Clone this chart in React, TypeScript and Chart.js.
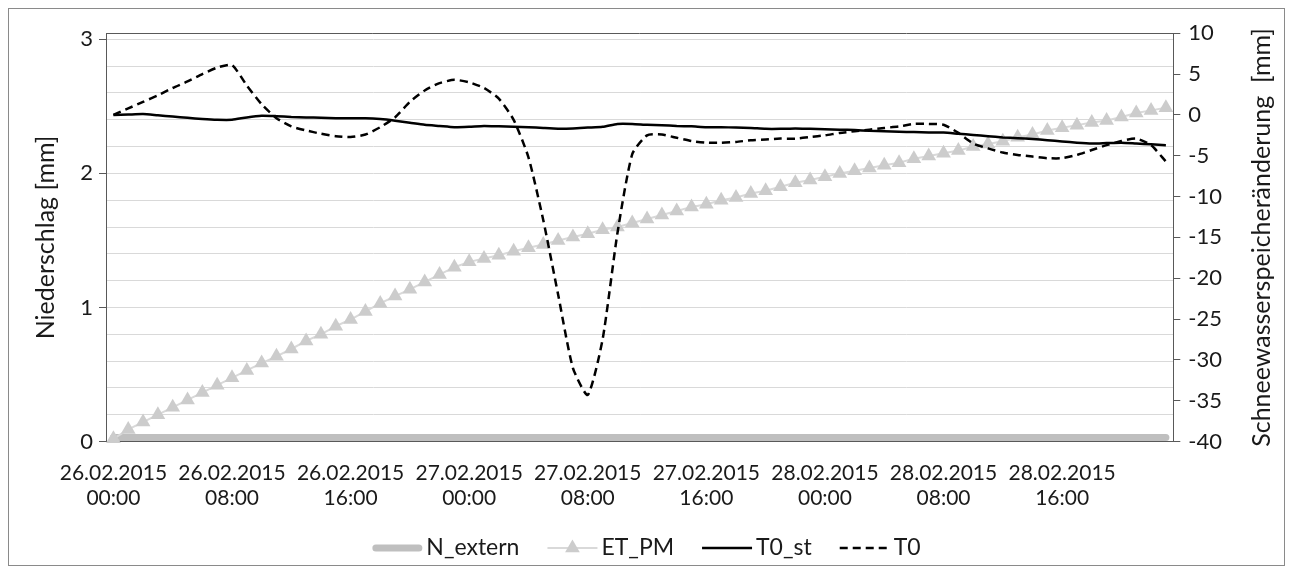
import React, { useEffect, useRef } from "react";
import { Chart, registerables } from "chart.js";

Chart.register(...registerables);

// ---------- data ----------
const days = ["26.02.2015", "27.02.2015", "28.02.2015"];
const hours = [
  "00:00", "01:00", "02:00", "03:00", "04:00", "05:00", "06:00", "07:00",
  "08:00", "09:00", "10:00", "11:00", "12:00", "13:00", "14:00", "15:00",
  "16:00", "17:00", "18:00", "19:00", "20:00", "21:00", "22:00", "23:00",
];
const categories: string[] = [];
days.forEach((d) => hours.forEach((h) => categories.push(d + " " + h)));
const labelEvery = 8;

// Niederschlag (left axis)
const nExtern = [
  0.03, 0.03, 0.03, 0.03, 0.03, 0.03, 0.03, 0.03, 0.03, 0.03, 0.03, 0.03,
  0.03, 0.03, 0.03, 0.03, 0.03, 0.03, 0.03, 0.03, 0.03, 0.03, 0.03, 0.03,
  0.03, 0.03, 0.03, 0.03, 0.03, 0.03, 0.03, 0.03, 0.03, 0.03, 0.03, 0.03,
  0.03, 0.03, 0.03, 0.03, 0.03, 0.03, 0.03, 0.03, 0.03, 0.03, 0.03, 0.03,
  0.03, 0.03, 0.03, 0.03, 0.03, 0.03, 0.03, 0.03, 0.03, 0.03, 0.03, 0.03,
  0.03, 0.03, 0.03, 0.03, 0.03, 0.03, 0.03, 0.03, 0.03, 0.03, 0.03, 0.03,
];

// ET_PM (left axis)
const etPM = [
  0.02, 0.09, 0.145, 0.2, 0.255, 0.31, 0.365, 0.42, 0.475, 0.53, 0.585, 0.635,
  0.69, 0.75, 0.8, 0.86, 0.91, 0.97, 1.03, 1.085, 1.135, 1.19, 1.245, 1.3,
  1.34, 1.365, 1.39, 1.42, 1.445, 1.47, 1.5, 1.525, 1.55, 1.58, 1.6, 1.63,
  1.66, 1.69, 1.72, 1.75, 1.77, 1.8, 1.82, 1.85, 1.87, 1.9, 1.93, 1.95,
  1.975, 2.0, 2.02, 2.04, 2.06, 2.08, 2.11, 2.13, 2.15, 2.17, 2.2, 2.22,
  2.24, 2.27, 2.29, 2.32, 2.34, 2.36, 2.38, 2.395, 2.42, 2.45, 2.47, 2.49,
];

// T0_st (right axis)
const t0st = [
  0.0, 0.05, 0.1, -0.05, -0.2, -0.35, -0.5, -0.6, -0.6, -0.3, -0.1, -0.15,
  -0.25, -0.3, -0.35, -0.4, -0.4, -0.4, -0.5, -0.7, -0.95, -1.2, -1.35, -1.5,
  -1.45, -1.35, -1.4, -1.45, -1.5, -1.6, -1.68, -1.65, -1.55, -1.45, -1.1, -1.1,
  -1.2, -1.25, -1.35, -1.4, -1.5, -1.5, -1.55, -1.6, -1.7, -1.7, -1.65, -1.7,
  -1.75, -1.8, -1.85, -1.95, -2.0, -2.05, -2.1, -2.15, -2.15, -2.3, -2.45, -2.6,
  -2.75, -2.85, -2.95, -3.1, -3.25, -3.4, -3.5, -3.45, -3.4, -3.5, -3.6, -3.7,
];

// T0 (right axis)
const t0 = [
  0.0, 0.8, 1.6, 2.4, 3.3, 4.1, 5.0, 5.8, 6.1, 3.6, 1.3, -0.4,
  -1.4, -1.9, -2.3, -2.6, -2.7, -2.4, -1.5, -0.3, 1.6, 3.0, 3.9, 4.3,
  4.0, 3.3, 2.0, -0.6, -5.2, -12.9, -22.0, -31.0, -34.3, -27.5, -14.5, -4.8,
  -2.5, -2.4, -2.8, -3.2, -3.4, -3.4, -3.3, -3.1, -3.0, -2.9, -2.9, -2.7,
  -2.5, -2.2, -2.0, -1.8, -1.6, -1.4, -1.1, -1.1, -1.2, -2.2, -3.5, -4.1,
  -4.6, -4.9, -5.1, -5.3, -5.3, -4.9, -4.3, -3.7, -3.2, -2.9, -3.7, -5.7,
];

const leftTickValues = [0, 1, 2, 3];
const leftGridStep = 0.2;
const rightMin = -40;
const rightMax = 10;
const rightStep = 5;
const leftTitle = "Niederschlag [mm]";
const rightTitle = "Schneewasserspeicheränderung  [mm]";

// ---------- style ----------
const FONT = 'Lato, "Open Sans", sans-serif';
const TEXT = "#1a1a1a";
const AXIS = "#595959";
const GRID = "#d9d9d9";
const FS_X = 21;
const FS_Y = 22;
const FS_TITLE = 25;
const FS_LEGEND = 23;

const W = 1275;
const H = 556;
const PLOT_LEFT = 97;
const PLOT_RIGHT = 1164.3;
const PLOT_TOP = 24.3;
const PLOT_BOTTOM = 432.5;
const X_AXIS_H = 70;
const LEGEND_Y = 539;
const RIGHT_TITLE_X = 1253;

const isInt = (v: number) => Math.abs(v - Math.round(v)) < 1e-6;

const frameTopPlugin = {
  id: "frameTop",
  beforeDatasetsDraw(chart: any) {
    const { ctx, chartArea } = chart;
    ctx.save();
    ctx.strokeStyle = AXIS;
    ctx.lineWidth = 1;
    ctx.beginPath();
    ctx.moveTo(chartArea.left, Math.round(chartArea.top) + 0.5);
    ctx.lineTo(chartArea.right, Math.round(chartArea.top) + 0.5);
    ctx.stroke();
    ctx.restore();
  },
};

const rightTitlePlugin = {
  id: "rightTitle",
  afterDraw(chart: any) {
    const { ctx, chartArea } = chart;
    ctx.save();
    ctx.translate(RIGHT_TITLE_X, (chartArea.top + chartArea.bottom) / 2);
    ctx.rotate(-Math.PI / 2);
    ctx.font = `${FS_TITLE}px ${FONT}`;
    ctx.fillStyle = TEXT;
    ctx.textAlign = "center";
    ctx.textBaseline = "middle";
    ctx.fillText(rightTitle, 0, 0);
    ctx.restore();
  },
};

const legendPlugin = {
  id: "customLegend",
  afterDraw(chart: any) {
    const ctx = chart.ctx;
    ctx.save();
    ctx.font = `${FS_LEGEND}px ${FONT}`;
    const sample = 50;
    const gapS = 4;
    const gapI = 28;
    const ds = chart.data.datasets;
    const widths = ds.map((d: any) => ctx.measureText(d.label).width);
    const total =
      widths.reduce((a: number, b: number) => a + b + sample + gapS, 0) +
      gapI * (ds.length - 1);
    let x = (chart.width - total) / 2;
    const y = LEGEND_Y;
    ds.forEach((d: any, i: number) => {
      ctx.save();
      ctx.strokeStyle = d.borderColor;
      ctx.lineWidth = d.borderWidth;
      const round = d.borderCapStyle === "round";
      ctx.lineCap = round ? "round" : "butt";
      ctx.setLineDash(d.borderDash || []);
      ctx.beginPath();
      ctx.moveTo(x + (round ? d.borderWidth / 2 : 0), y);
      ctx.lineTo(x + sample - (round ? d.borderWidth / 2 : 0), y);
      ctx.stroke();
      if (d.pointStyle === "triangle") {
        const r = d.pointRadius;
        const cx = x + sample / 2;
        ctx.setLineDash([]);
        ctx.fillStyle = d.pointBackgroundColor;
        ctx.beginPath();
        for (let k = 0; k < 3; k++) {
          const a = (k * 2 * Math.PI) / 3;
          const px = cx + Math.sin(a) * r;
          const py = y - Math.cos(a) * r;
          if (k === 0) ctx.moveTo(px, py);
          else ctx.lineTo(px, py);
        }
        ctx.closePath();
        ctx.fill();
      }
      ctx.restore();
      ctx.fillStyle = TEXT;
      ctx.textBaseline = "middle";
      ctx.textAlign = "left";
      ctx.fillText(d.label, x + sample + gapS, y);
      x += sample + gapS + widths[i] + gapI;
    });
    ctx.restore();
  },
};

export default function App() {
  const ref = useRef<HTMLCanvasElement | null>(null);

  useEffect(() => {
    if (!ref.current) return;
    const leftGrid: number[] = [];
    const leftTop = leftTickValues[leftTickValues.length - 1];
    for (let k = 0; k * leftGridStep <= leftTop + 1e-9; k++) {
      leftGrid.push(Math.round(k * leftGridStep * 1000) / 1000);
    }
    const chart = new Chart(ref.current, {
      type: "line",
      data: {
        labels: categories,
        datasets: [
          {
            label: "N_extern",
            data: nExtern,
            yAxisID: "y",
            borderColor: "#bfbfbf",
            backgroundColor: "#bfbfbf",
            borderWidth: 7,
            borderCapStyle: "round",
            pointRadius: 0,
            order: 4,
          },
          {
            label: "ET_PM",
            data: etPM,
            yAxisID: "y",
            borderColor: "#d9d9d9",
            backgroundColor: "#cccccc",
            borderWidth: 2,
            pointStyle: "triangle",
            pointRadius: 8.5,
            pointBackgroundColor: "#cccccc",
            pointBorderColor: "#cccccc",
            pointBorderWidth: 0,
            clip: 10,
            order: 3,
          },
          {
            label: "T0_st",
            data: t0st,
            yAxisID: "y1",
            borderColor: "#000000",
            backgroundColor: "#000000",
            borderWidth: 2.5,
            pointRadius: 0,
            tension: 0.2,
            order: 2,
          },
          {
            label: "T0",
            data: t0,
            yAxisID: "y1",
            borderColor: "#000000",
            backgroundColor: "#000000",
            borderWidth: 2.5,
            borderDash: [8, 5],
            pointRadius: 0,
            tension: 0.2,
            order: 1,
          },
        ] as any,
      },
      options: {
        animation: false,
        responsive: true,
        maintainAspectRatio: false,
        layout: {
          padding: { left: 0, right: 0, top: PLOT_TOP, bottom: H - PLOT_BOTTOM - X_AXIS_H },
        },
        plugins: {
          legend: { display: false },
          tooltip: { enabled: false },
        },
        scales: {
          x: {
            type: "category",
            offset: true,
            grid: { display: false, offset: true },
            border: { display: true, color: AXIS, width: 1 },
            ticks: {
              autoSkip: false,
              maxRotation: 0,
              minRotation: 0,
              padding: 11,
              color: TEXT,
              font: { family: FONT, size: FS_X },
              callback: (_v: any, i: number) => {
                if (i % labelEvery !== 0) return "";
                const parts = categories[i].split(" ");
                return [parts[0], parts[1]];
              },
            },
            afterFit: (s: any) => {
              s.height = X_AXIS_H;
            },
          },
          y: {
            type: "linear",
            position: "left",
            min: 0,
            max: 3.045,
            afterBuildTicks: (s: any) => {
              s.ticks = leftGrid.map((v) => ({ value: v }));
            },
            grid: {
              color: GRID,
              lineWidth: 1,
              tickLength: 7,
              tickColor: (c: any) => (c.tick && isInt(c.tick.value) ? AXIS : "rgba(0,0,0,0)"),
            },
            border: { display: true, color: AXIS, width: 1 },
            ticks: {
              autoSkip: false,
              padding: 6,
              color: TEXT,
              font: { family: FONT, size: FS_Y },
              callback: (v: any) => (isInt(Number(v)) ? String(Math.round(Number(v))) : ""),
            },
            title: {
              display: true,
              text: leftTitle,
              color: TEXT,
              font: { family: FONT, size: FS_TITLE },
              padding: { top: 22, bottom: 0 },
            },
            afterFit: (s: any) => {
              s.width = PLOT_LEFT;
            },
          },
          y1: {
            type: "linear",
            position: "right",
            min: rightMin,
            max: rightMax,
            grid: {
              drawOnChartArea: false,
              tickLength: 7,
              tickColor: AXIS,
            },
            border: { display: true, color: AXIS, width: 1 },
            ticks: {
              autoSkip: false,
              stepSize: rightStep,
              padding: 8,
              color: TEXT,
              font: { family: FONT, size: FS_Y },
            },
            title: { display: false },
            afterFit: (s: any) => {
              s.width = W - PLOT_RIGHT;
            },
          },
        },
      } as any,
      plugins: [frameTopPlugin, rightTitlePlugin, legendPlugin],
    });
    return () => chart.destroy();
  }, []);

  return (
    <div
      style={{
        width: W,
        height: H,
        border: "1px solid #8a8a8a",
        position: "relative",
        background: "#ffffff",
      }}
    >
      <canvas ref={ref} />
    </div>
  );
}
